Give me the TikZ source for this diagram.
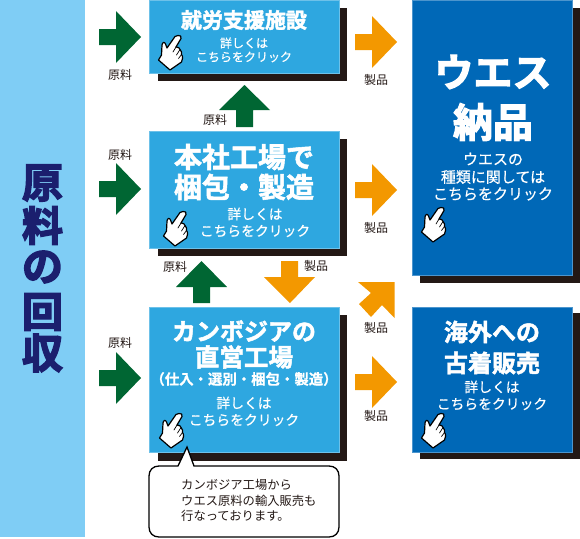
\documentclass[tikz,border=0pt]{standalone}
\usepackage{fontspec}
\setmainfont{Noto Sans CJK JP}
\newfontfamily\heavy[FakeBold=2]{Noto Sans CJK JP Bold}
\newfontfamily\bigheavy[FakeBold=3]{Noto Sans CJK JP Bold}
\newfontfamily\panelfont[FakeBold=3.5]{Noto Sans CJK JP Bold}
\newfontfamily\paren[FakeBold=0.6]{Noto Sans CJK JP Bold}
\newfontfamily\midw[FakeBold=0.5]{Noto Sans CJK JP}
\newfontfamily\reg{Noto Sans CJK JP}
\definecolor{boxlight}{HTML}{2EA7E0}
\definecolor{boxdark}{HTML}{0068B7}
\definecolor{panel}{HTML}{7FCDF5}
\definecolor{arrg}{HTML}{006633}
\definecolor{arro}{HTML}{F39800}
\definecolor{shad}{HTML}{231815}
\definecolor{navy}{HTML}{1B1F6E}
\tikzset{
  lightbox/.style={fill=boxlight,draw=boxlight!70!white,line width=.6pt},
  darkbox/.style={fill=boxdark,draw=boxdark!70!white,line width=.6pt},
  shadowbox/.style={fill=shad},
  garrow/.style={fill=arrg},
  oarrow/.style={fill=arro},
  lab/.style={font=\reg\fontsize{12}{12}\selectfont,text=shad,inner sep=0pt,outer sep=0pt},
  ttl/.style={font=\heavy\fontsize{#1}{#1}\selectfont,text=white,inner sep=0pt,outer sep=0pt},
  ttlbig/.style={font=\bigheavy\fontsize{#1}{#1}\selectfont,text=white,inner sep=0pt,outer sep=0pt},
  sub/.style={font=\midw\fontsize{#1}{#1}\selectfont,text=white,inner sep=0pt,outer sep=0pt},
  pnl/.style={font=\panelfont\fontsize{41}{41}\selectfont,text=navy,inner sep=0pt,outer sep=0pt},
  handline/.style={line width=1.2pt,draw=black,line join=round,line cap=round},
  hand/.pic={
    \draw[handline,fill=white] (20,0.5) .. controls (22,0) and (24,1.5) .. (23,3.5)
      -- (18,12) .. controls (20,12) and (22,13) .. (22,14.5)
      .. controls (23.5,16) and (24,18) .. (23.5,19.5)
      .. controls (25,21) and (25,25) .. (23.5,27)
      -- (12,35) -- (0.5,25) -- (3.5,20) -- (4,10)
      .. controls (4.5,7) and (6.5,6.5) .. (7.5,9) -- (9,13) -- (17,1.5) .. controls (18,0.5) and (19,0.3) .. (20,0.5) -- cycle;
    \draw[handline,line width=.7pt] (18,12) -- (15,17) (22,14.5) -- (18.5,20) (23.5,19.5) -- (20.5,23.5);
  }
}
\newcommand{\rightarr}[3]{% x left, y centre, style
  \fill[#3] (#1,#2-8) -- (#1+17,#2-8) -- (#1+17,#2-26) -- (#1+42,#2) -- (#1+17,#2+26) -- (#1+17,#2+8) -- (#1,#2+8) -- cycle;}
\begin{document}
\begin{tikzpicture}[x=1pt,y=-1pt]
\useasboundingbox (0,0) rectangle (580,538);
% left panel
\fill[panel] (0,0) rectangle (85,537);
\node[pnl] (p1) at (42.5,183) {原};
\node[pnl] (p2) at (42.5,225.5) {料};
\node[pnl] (p3) at (42.5,267) {の};
\node[pnl] (p4) at (42.5,312) {回};
\node[pnl] (p5) at (42.5,353) {収};
% shadows
\fill[shadowbox] (158,8) rectangle (347,81);
\fill[shadowbox] (158,139) rectangle (347,256);
\fill[shadowbox] (158,315) rectangle (347,461);
\fill[shadowbox] (420,8) rectangle (580,283);
\fill[shadowbox] (420,313) rectangle (580,459);
% boxes
\node[lightbox,minimum width=190pt,minimum height=73pt,anchor=north west,inner sep=0pt] (b1) at (149,0) {};
\node[lightbox,minimum width=190pt,minimum height=117pt,anchor=north west,inner sep=0pt] (b2) at (149,131) {};
\node[lightbox,minimum width=190pt,minimum height=145pt,anchor=north west,inner sep=0pt] (b3) at (149,307) {};
\node[darkbox,minimum width=160pt,minimum height=275pt,anchor=north west,inner sep=0pt] (b4) at (411.5,0) {};
\node[darkbox,minimum width=160pt,minimum height=145pt,anchor=north west,inner sep=0pt] (b5) at (412,307) {};
% titles
\node[ttl=21] (t1) at (244,20) {就労支援施設};
\node[sub=12] (s1a) at (244,43) {詳しくは};
\node[sub=12] (s1b) at (244,57) {こちらをクリック};
\node[ttl=28] (t2a) at (244,157) {本社工場で};
\node[ttl=28] (t2b) at (244,187) {梱包・製造};
\node[sub=13.8] (s2a) at (255,214) {詳しくは};
\node[sub=13.8] (s2b) at (255,231) {こちらをクリック};
\node[ttl=24] (t3a) at (244,331) {カンボジアの};
\node[ttl=24.5] (t3b) at (244,357) {直営工場};
\node[font=\paren\fontsize{14.4}{14.4}\selectfont,text=white,inner sep=0pt,outer sep=0pt] (t3c) at (244,379) {（仕入・選別・梱包・製造）};
\node[sub=13.8] (s3a) at (244,403) {詳しくは};
\node[sub=13.8] (s3b) at (244,420) {こちらをクリック};
\node[ttlbig=39] (t4a) at (493,72) {ウエス};
\node[ttlbig=40] (t4b) at (493,122) {納品};
\node[sub=15] (s4a) at (493,159) {ウエスの};
\node[sub=15] (s4b) at (493,177) {種類に関しては};
\node[sub=15] (s4c) at (493,194) {こちらをクリック};
\node[ttl=24] (t5a) at (492,332) {海外への};
\node[ttl=24] (t5b) at (492,363) {古着販売};
\node[sub=13.8] (s5a) at (492,387) {詳しくは};
\node[sub=13.8] (s5b) at (492,404) {こちらをクリック};
% hands
\pic at (158,35) {hand};
\pic at (163,211) {hand};
\pic at (159,413) {hand};
\pic at (421,207) {hand};
\pic at (421,413) {hand};
% arrows
\rightarr{99}{37}{garrow}
\rightarr{99}{189}{garrow}
\rightarr{99}{378}{garrow}
\rightarr{355}{42}{oarrow}
\rightarr{355}{190}{oarrow}
\rightarr{355}{382}{oarrow}
\fill[garrow] (236,127) -- (236,110) -- (219,110) -- (244.5,85) -- (270,110) -- (253,110) -- (253,127) -- cycle;
\fill[garrow] (193,303) -- (193,287) -- (176,287) -- (201.5,261) -- (227,287) -- (210,287) -- (210,303) -- cycle;
\fill[oarrow] (281,261) -- (298,261) -- (298,277) -- (315,277) -- (290,303) -- (264,277) -- (281,277) -- cycle;
\fill[oarrow] (394.5,282) -- (394.5,318) -- (382,305) -- (371,317) -- (359,304) -- (371,293) -- (358,282) -- cycle;
% labels
\node[lab] (l1) at (120,75) {原料};
\node[lab] (l2) at (120,155) {原料};
\node[lab] (l3) at (120,343) {原料};
\node[lab] (l4) at (215,120) {原料};
\node[lab] (l5) at (175,267) {原料};
\node[lab] (l6) at (316,266) {製品};
\node[lab] (l7) at (376,80) {製品};
\node[lab] (l8) at (376,228) {製品};
\node[lab] (l9) at (376,328) {製品};
\node[lab] (l10) at (376,416) {製品};
% callout
\draw[fill=white,draw=black,line width=1.3pt]
  (178,466) -- (187,447) -- (194,466) -- (329,466)
  .. controls (335,466) and (339,470) .. (339,476) -- (339,527)
  .. controls (339,533) and (335,537) .. (329,537) -- (159,537)
  .. controls (153,537) and (149,533) .. (149,527) -- (149,476)
  .. controls (149,470) and (153,466) .. (159,466) -- cycle;
\node[font=\reg\fontsize{12.3}{15.5}\selectfont,text=shad,inner sep=0pt,align=left,anchor=west] (ct) at (181,500.5)
  {カンボジア工場から\\ウエス原料の輸入販売も\\行なっております。};
\end{tikzpicture}
\end{document}
